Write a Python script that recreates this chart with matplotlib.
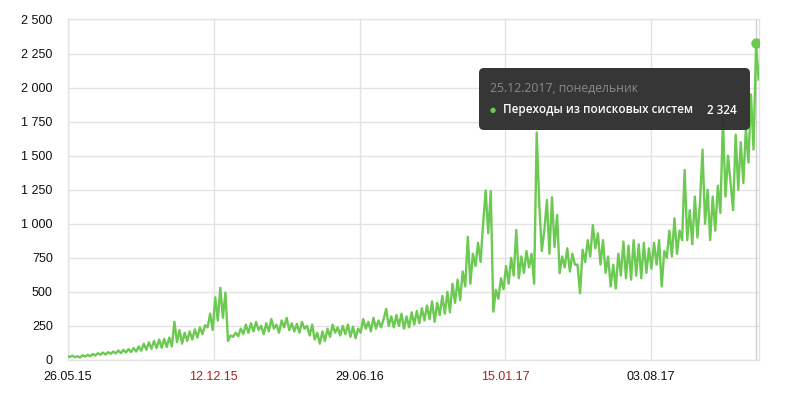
import numpy as np
import pandas as pd
import matplotlib
matplotlib.use("Agg")
import matplotlib.pyplot as plt
import matplotlib.dates as mdates
from matplotlib.patches import FancyBboxPatch
from matplotlib.ticker import FuncFormatter

# visits from search engines, one reading every half week
start_date = "2015-05-25"
visits = [
    30, 22, 32, 20, 28, 18, 35, 25, 38, 28,
    45, 32, 50, 38, 55, 40, 58, 45, 62, 48,
    70, 50, 75, 55, 80, 58, 88, 62, 100, 68,
    120, 75, 130, 82, 140, 88, 150, 90, 155, 95,
    165, 100, 280, 130, 220, 120, 200, 140, 210, 150,
    225, 165, 240, 190, 255, 240, 340, 220, 460, 290,
    530, 310, 495, 140, 180, 170, 200, 175, 230, 190,
    260, 200, 270, 210, 280, 220, 250, 190, 270, 210,
    300, 230, 260, 200, 290, 240, 310, 220, 270, 210,
    265, 200, 280, 230, 250, 180, 260, 150, 200, 120,
    210, 140, 230, 170, 260, 200, 240, 180, 250, 190,
    260, 170, 245, 160, 230, 200, 300, 230, 280, 210,
    310, 230, 290, 240, 300, 375, 250, 320, 240, 330,
    250, 340, 230, 320, 240, 350, 260, 360, 270, 380,
    290, 400, 300, 430, 280, 420, 330, 470, 340, 500,
    350, 560, 420, 590, 440, 650, 540, 905, 560, 780,
    690, 860, 720, 1000, 1245, 930, 1240, 355, 515, 450,
    600, 520, 690, 560, 750, 620, 955, 600, 760, 640,
    800, 680, 780, 560, 1670, 1150, 800, 950, 1175, 780,
    1195, 830, 1065, 637, 760, 680, 820, 650, 780, 700,
    700, 490, 810, 720, 880, 760, 990, 820, 930, 700,
    880, 640, 760, 540, 700, 525, 780, 620, 870, 600,
    840, 590, 880, 620, 850, 600, 860, 640, 820, 670,
    860, 700, 880, 540, 800, 750, 950, 760, 1040, 780,
    950, 880, 1395, 880, 1100, 850, 1200, 900, 1150, 1545,
    1000, 1250, 880, 1200, 950, 1280, 1080, 1765, 1200, 1500,
    1300, 1100, 1655, 1250, 1600, 1300, 1700, 1450, 1950, 1545,
    2324, 2060,
]
tick_dates = ["2015-05-26", "2015-12-12", "2016-06-29", "2017-01-15", "2017-08-03"]
tick_labels = ["26.05.15", "12.12.15", "29.06.16", "15.01.17", "03.08.17"]
weekend = [False, True, False, True, False]
y_ticks = [0, 250, 500, 750, 1000, 1250, 1500, 1750, 2000, 2250, 2500]

hover_date = "2017-12-25"
hover_value = 2324
series_name = "Переходы из поисковых систем"

dates = pd.date_range(start_date, periods=len(visits), freq="84h")

green = "#6cc951"
grid_col = "#e3e3e3"

plt.rcParams["font.family"] = ["Liberation Sans", "DejaVu Sans"]

fig = plt.figure(figsize=(7.87, 4.17), dpi=100)
ax = fig.add_axes([68 / 787, 1 - 360 / 417, 691 / 787, 340.5 / 417])

ax.plot(dates, visits, color=green, lw=1.7, solid_joinstyle="round", zorder=3)

# hover line + highlighted point
hd = pd.Timestamp(hover_date)
ax.axvline(hd, color="#cccccc", lw=0.9, zorder=2)
ax.plot([hd], [hover_value], "o", color=green, ms=6.5, zorder=4)

ax.set_xlim(pd.Timestamp("2015-05-26"), pd.Timestamp("2017-12-29"))
ax.set_ylim(0, 2500)

ax.set_yticks(y_ticks)
ax.yaxis.set_major_formatter(FuncFormatter(lambda v, p: f"{int(v):,}".replace(",", " ")))
ax.set_xticks([pd.Timestamp(d) for d in tick_dates])
ax.set_xticklabels(tick_labels)
for lab, red in zip(ax.get_xticklabels(), weekend):
    lab.set_color("#b0201b" if red else "#111111")

ax.tick_params(axis="y", length=0, pad=11, labelsize=9, labelcolor="#111111")
ax.tick_params(axis="x", length=0, pad=8, labelsize=9)
ax.grid(True, color=grid_col, lw=1)
ax.set_axisbelow(True)
for s in ax.spines.values():
    s.set_color(grid_col)
    s.set_linewidth(1)

# tooltip box (in inches from bottom-left)
box = FancyBboxPatch((4.79, 2.87), 2.71, 0.62,
                     boxstyle="round,pad=0,rounding_size=0.05",
                     transform=fig.dpi_scale_trans,
                     facecolor="#2f2f2f", edgecolor="none", alpha=0.97, zorder=5)
fig.patches.append(box)
tip_font = ["Open Sans", "DejaVu Sans"]
fig.text(4.90, 3.29, "25.12.2017, понедельник", transform=fig.dpi_scale_trans,
         color="#8a8a8a", fontsize=8.8, family=tip_font,
         va="center", ha="left", zorder=6)
fig.text(4.93, 3.07, "\u25cf", transform=fig.dpi_scale_trans, color=green,
         fontsize=5, va="center", ha="center", family="DejaVu Sans", zorder=6)
fig.text(5.03, 3.07, series_name, transform=fig.dpi_scale_trans,
         color="white", fontsize=8.4, family=tip_font, weight="semibold",
         va="center", ha="left", zorder=6)
fig.text(7.37, 3.07, f"{hover_value:,}".replace(",", " "), transform=fig.dpi_scale_trans,
         color="white", fontsize=8.4, family=tip_font, weight="semibold",
         va="center", ha="right", zorder=6)

fig.savefig("out.png", dpi=100)
